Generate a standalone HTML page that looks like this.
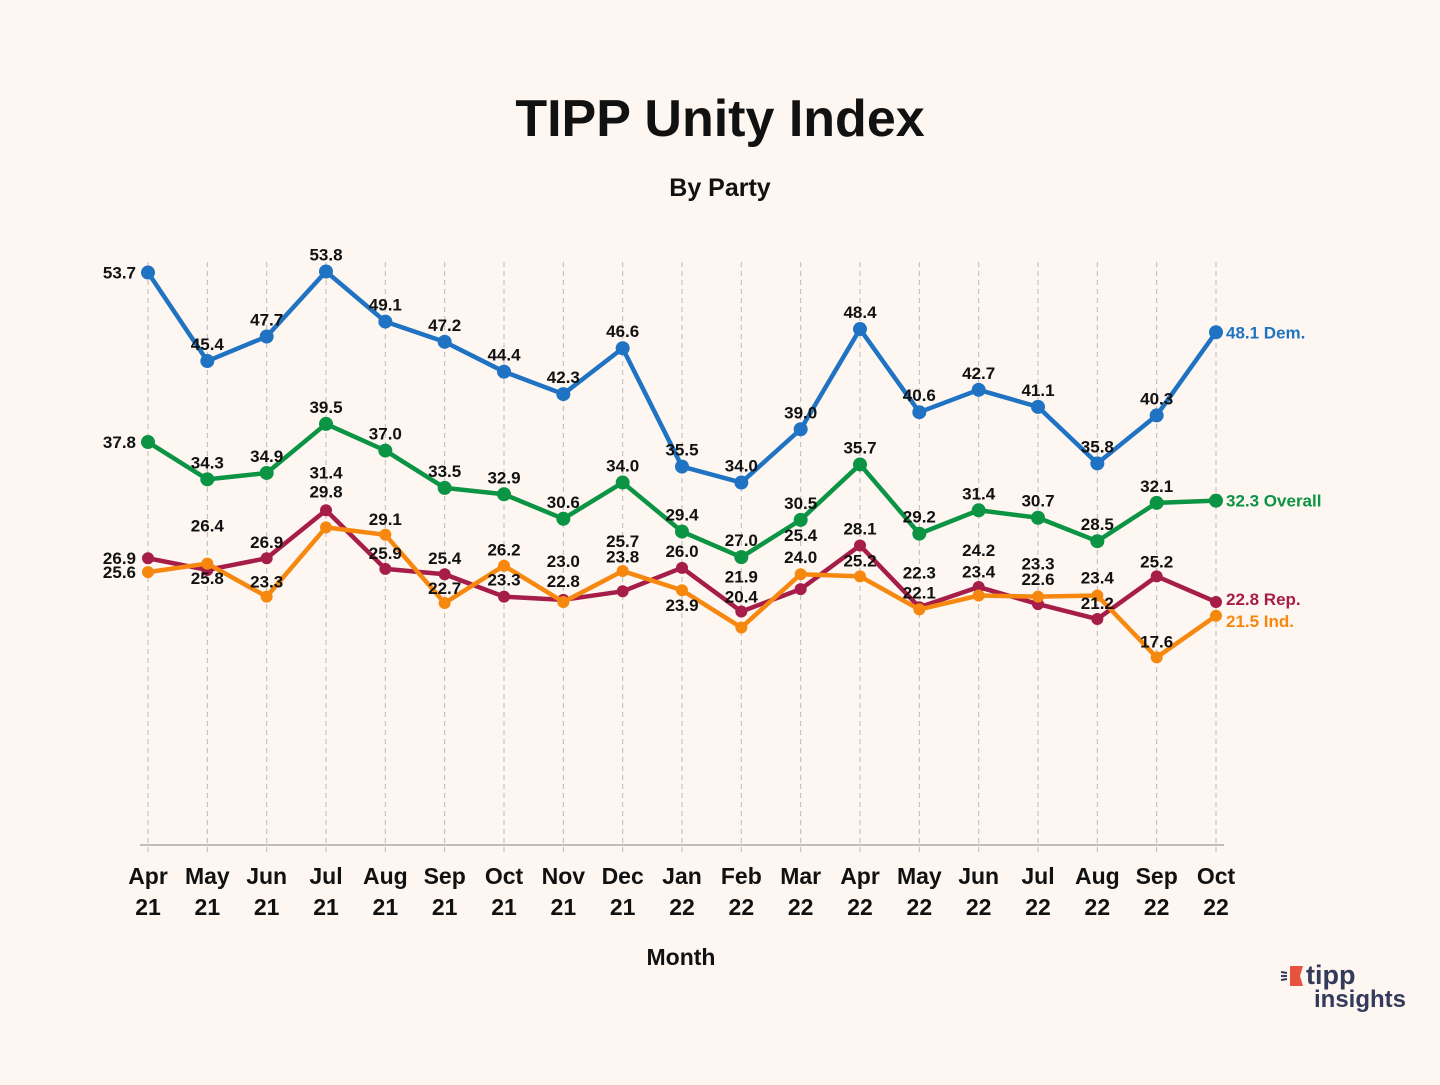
<!DOCTYPE html>
<html><head><meta charset="utf-8"><style>
html,body{margin:0;padding:0;background:#fdf6f1;}
body{width:1440px;height:1080px;overflow:hidden;font-family:"Liberation Sans","DejaVu Sans",sans-serif;}
</style></head><body>
<svg id="chart" width="1440" height="1080" xmlns="http://www.w3.org/2000/svg" font-family="'Liberation Sans','DejaVu Sans',sans-serif">
<rect x="0" y="0" width="1440" height="1080" fill="#fdf6f1"/>
<text x="720" y="136" text-anchor="middle" font-size="52" font-weight="bold" fill="#111">TIPP Unity Index</text>
<text x="720" y="196" text-anchor="middle" font-size="25" font-weight="bold" fill="#111">By Party</text>
<text x="681" y="965" text-anchor="middle" font-size="23" font-weight="bold" fill="#111">Month</text>
<g>
<path d="M1290 966 L1303 966 L1300 976 L1303 986 L1290 986 Z" fill="#e8533f"/>
<line x1="1281" y1="972" x2="1287" y2="973" stroke="#333a5c" stroke-width="2"/>
<line x1="1281" y1="976" x2="1287" y2="976" stroke="#333a5c" stroke-width="2"/>
<line x1="1281" y1="980" x2="1287" y2="979" stroke="#333a5c" stroke-width="2"/>
<text x="1306" y="984" font-size="27" font-weight="bold" fill="#333a5c">tipp</text>
<text x="1314" y="1007" font-size="24" font-weight="bold" fill="#333a5c">insights</text>
</g>
<g id="grid"></g><g id="series"></g><g id="labels"></g>
</svg>
<script>
const categories = ["Apr 21","May 21","Jun 21","Jul 21","Aug 21","Sep 21","Oct 21","Nov 21","Dec 21","Jan 22","Feb 22","Mar 22","Apr 22","May 22","Jun 22","Jul 22","Aug 22","Sep 22","Oct 22"];
const demValues = [53.7,45.4,47.7,53.8,49.1,47.2,44.4,42.3,46.6,35.5,34.0,39.0,48.4,40.6,42.7,41.1,35.8,40.3,48.1];
const overallValues = [37.8,34.3,34.9,39.5,37.0,33.5,32.9,30.6,34.0,29.4,27.0,30.5,35.7,29.2,31.4,30.7,28.5,32.1,32.3];
const repValues = [26.9,25.8,26.9,31.4,25.9,25.4,23.3,23.0,23.8,26.0,21.9,24.0,28.1,22.3,24.2,22.6,21.2,25.2,22.8];
const indValues = [25.6,26.4,23.3,29.8,29.1,22.7,26.2,22.8,25.7,23.9,20.4,25.4,25.2,22.1,23.4,23.3,23.4,17.6,21.5];
const seriesNames = ["Dem.","Overall","Rep.","Ind."];

const NS="http://www.w3.org/2000/svg";
const x0=148, dx=(1216-148)/18, yBase=845, pxPerUnit=10.66;
const xScale=i=>x0+i*dx;
const yScale=v=>yBase-v*pxPerUnit;
function mk(tag,attrs,parent){const e=document.createElementNS(NS,tag);for(const k in attrs)e.setAttribute(k,attrs[k]);parent.appendChild(e);return e;}
const grid=document.getElementById('grid'),ser=document.getElementById('series'),lab=document.getElementById('labels');

const axis=mk('line',{x1:140,y1:yBase,x2:1224,y2:yBase,stroke:'#aaa','stroke-width':1.5},grid);


categories.forEach((c,i)=>{
  const gl=mk('line',{x1:xScale(i),y1:262,x2:xScale(i),y2:yBase+8,stroke:'#bbb','stroke-width':1,'stroke-dasharray':'5,4'},grid);
  
  
  const parts=c.split(' ');
  const t=mk('text',{x:xScale(i),y:884,'text-anchor':'middle','font-size':23,'font-weight':'bold',fill:'#111'},grid);
  
  
  mk('tspan',{x:xScale(i),dy:0},t).textContent=parts[0];
  mk('tspan',{x:xScale(i),dy:31},t).textContent=parts[1];
});

const offDem=demValues.map(()=>-17), offOv=overallValues.map(()=>-17);
const offRep=[0,8,-16,-38,-16,-16,-17,-39,-35,-17,-35,-32,-17,-35,-37,-25,-16,-15,0];
const offInd=[0,-38,-15,-36,-16,-15,-16,-21,-30,15,-31,-39,-16,-17,-24,-33,-18,-16,0];
const defs=[
 {vals:demValues,color:'#1f73c2',off:offDem,name:'dem'},
 {vals:overallValues,color:'#0a9444',off:offOv,name:'overall'},
 {vals:repValues,color:'#a51d48',off:offRep,name:'rep'},
 {vals:indValues,color:'#f7880f',off:offInd,name:'ind'}];
defs.forEach((d,si)=>{
  const pts=d.vals.map((v,i)=>xScale(i)+','+yScale(v)).join(' ');
  const pl=mk('polyline',{points:pts,fill:'none',stroke:d.color,'stroke-width':4.5,'stroke-linejoin':'round'},ser);
  
  
  d.vals.forEach((v,i)=>{
    const c=mk('circle',{cx:xScale(i),cy:yScale(v),r:si<2?7:6,fill:d.color},ser);
    
    
    let t;
    if(i===0){
      t=mk('text',{x:xScale(i)-12,y:yScale(v)+6,'text-anchor':'end','font-size':17,'font-weight':'bold',fill:'#111'},lab);
      t.textContent=v.toFixed(1);
    } else if(i===d.vals.length-1){
      t=mk('text',{x:xScale(i)+10,y:yScale(v)+6+(si===2?-3:si===3?5:0),'font-size':17,'font-weight':'bold',fill:d.color},lab);
      t.textContent=v.toFixed(1)+' '+seriesNames[si];
    } else {
      t=mk('text',{x:xScale(i),y:yScale(v)+d.off[i]+6,'text-anchor':'middle','font-size':17,'font-weight':'bold',fill:'#111'},lab);
      t.textContent=v.toFixed(1);
    }
    
    
  });
});
</script>
</body></html>
